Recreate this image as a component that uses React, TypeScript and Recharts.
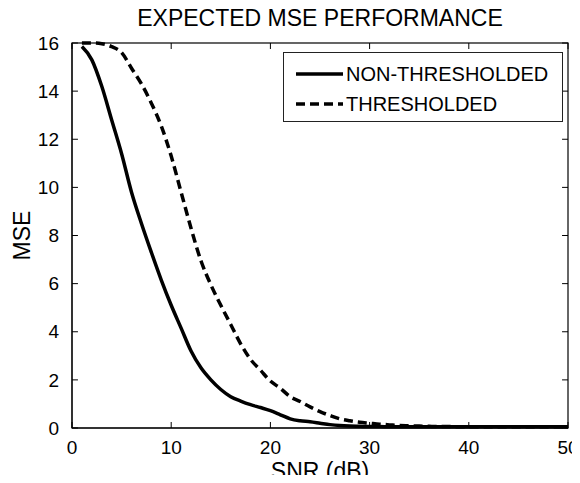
import React from 'react';
import { LineChart, Line, XAxis, YAxis, ReferenceLine, usePlotArea } from 'recharts';

// SNR in dB, one point per dB
const snr = [
  1, 2, 3, 4, 5, 6, 7, 8, 9, 10, 11, 12, 13, 14, 15, 16, 17, 18, 19, 20, 21, 22, 23, 24, 25,
  26, 27, 28, 29, 30, 31, 32, 33, 34, 35, 36, 37, 38, 39, 40, 41, 42, 43, 44, 45, 46, 47, 48, 49, 50,
];

const nonThresholded = [
  15.85, 15.3, 14.2, 12.8, 11.4, 9.8, 8.5, 7.3, 6.15, 5.1, 4.15, 3.2, 2.5, 2.0, 1.6, 1.3, 1.12, 0.97, 0.85, 0.72,
  0.55, 0.38, 0.3, 0.26, 0.2, 0.14, 0.1, 0.08, 0.07, 0.06, 0.06, 0.05, 0.05, 0.05, 0.05, 0.05, 0.05, 0.05, 0.05, 0.05,
  0.05, 0.05, 0.05, 0.05, 0.05, 0.05, 0.05, 0.05, 0.05, 0.05,
];

const thresholded = [
  16, 16, 15.97, 15.85, 15.6, 14.95, 14.3, 13.5, 12.55, 11.3, 9.8, 8.3, 6.95, 5.95, 5.1, 4.3, 3.5, 2.85, 2.4, 1.95,
  1.65, 1.3, 1.1, 0.88, 0.68, 0.52, 0.38, 0.3, 0.24, 0.2, 0.16, 0.13, 0.1, 0.09, 0.08, 0.07, 0.06, 0.06, 0.05, 0.05,
  0.05, 0.05, 0.05, 0.05, 0.05, 0.05, 0.05, 0.05, 0.05, 0.05,
];

const xTicks = [0, 10, 20, 30, 40, 50];
const yTicks = [0, 2, 4, 6, 8, 10, 12, 14, 16];

const X_MAX = 50;
const Y_MAX = 16;
// inward tick length, in data units (~6px)
const X_TICK_LEN = 0.25;
const Y_TICK_LEN = 0.6;

const data = snr.map((s, i) => ({ snr: s, nt: nonThresholded[i], t: thresholded[i] }));

const FONT = '"Liberation Sans", Arial, Helvetica, sans-serif';
const AXIS = '#000';

// box around the plot area
const Frame = () => {
  const area = usePlotArea();
  if (!area) return null;
  return (
    <rect x={area.x} y={area.y} width={area.width} height={area.height} fill="none" stroke={AXIS} strokeWidth={1.2} />
  );
};

const LegendBox = () => (
  <div
    style={{
      position: 'absolute',
      left: 283,
      top: 52,
      border: '1px solid #222',
      background: '#fff',
      width: 280,
      height: 70,
      boxSizing: 'border-box',
      fontFamily: FONT,
      fontSize: 20,
      color: '#000',
      paddingTop: 6,
      paddingLeft: 12,
    }}
  >
    <div style={{ display: 'flex', alignItems: 'center', height: 30 }}>
      <svg width={50} height={6}>
        <line x1={0} y1={3} x2={47} y2={3} stroke="#000" strokeWidth={3.5} />
      </svg>
      <span>NON-THRESHOLDED</span>
    </div>
    <div style={{ display: 'flex', alignItems: 'center', height: 30 }}>
      <svg width={50} height={6}>
        <line x1={0} y1={3} x2={47} y2={3} stroke="#000" strokeWidth={3.5} strokeDasharray="9 5" />
      </svg>
      <span>THRESHOLDED</span>
    </div>
  </div>
);

export default function App() {
  return (
    <div style={{ position: 'relative', margin: -8, width: 580, height: 483, background: '#fff' }}>
      <LineChart width={580} height={483} data={data} margin={{ top: 43, right: 12, bottom: 0, left: 0 }}>
        <XAxis
          dataKey="snr"
          type="number"
          domain={[0, X_MAX]}
          ticks={xTicks}
          height={55}
          tickLine={false}
          tickMargin={7}
          stroke={AXIS}
          tick={{ fill: '#000', fontSize: 19, fontFamily: FONT }}
          label={{ value: 'SNR (dB)', position: 'insideBottom', offset: 4, fill: '#000', fontSize: 23, fontFamily: FONT }}
        />
        <YAxis
          type="number"
          domain={[0, Y_MAX]}
          ticks={yTicks}
          width={72}
          tickLine={false}
          tickMargin={7}
          stroke={AXIS}
          tick={{ fill: '#000', fontSize: 19, fontFamily: FONT }}
          label={{
            value: 'MSE',
            angle: -90,
            position: 'insideLeft',
            offset: 22,
            fill: '#000',
            fontSize: 23,
            fontFamily: FONT,
            style: { textAnchor: 'middle' },
          }}
        />
        <Frame />
        {xTicks.map((t) => (
          <ReferenceLine key={'xb' + t} segment={[{ x: t, y: 0 }, { x: t, y: X_TICK_LEN }]} stroke={AXIS} />
        ))}
        {xTicks.map((t) => (
          <ReferenceLine key={'xt' + t} segment={[{ x: t, y: Y_MAX }, { x: t, y: Y_MAX - X_TICK_LEN }]} stroke={AXIS} />
        ))}
        {yTicks.map((t) => (
          <ReferenceLine key={'yl' + t} segment={[{ x: 0, y: t }, { x: Y_TICK_LEN, y: t }]} stroke={AXIS} />
        ))}
        {yTicks.map((t) => (
          <ReferenceLine key={'yr' + t} segment={[{ x: X_MAX, y: t }, { x: X_MAX - Y_TICK_LEN, y: t }]} stroke={AXIS} />
        ))}
        <Line
          dataKey="nt"
          stroke="#000"
          strokeWidth={3.5}
          dot={false}
          type="monotone"
          isAnimationActive={false}
        />
        <Line
          dataKey="t"
          stroke="#000"
          strokeWidth={3.5}
          strokeDasharray="9 5"
          dot={false}
          type="monotone"
          isAnimationActive={false}
        />
      </LineChart>
      <div
        style={{
          position: 'absolute',
          left: 72,
          width: 496,
          top: 5,
          textAlign: 'center',
          fontFamily: FONT,
          fontSize: 23,
          color: '#000',
        }}
      >
        EXPECTED MSE PERFORMANCE
      </div>
      <LegendBox />
    </div>
  );
}
